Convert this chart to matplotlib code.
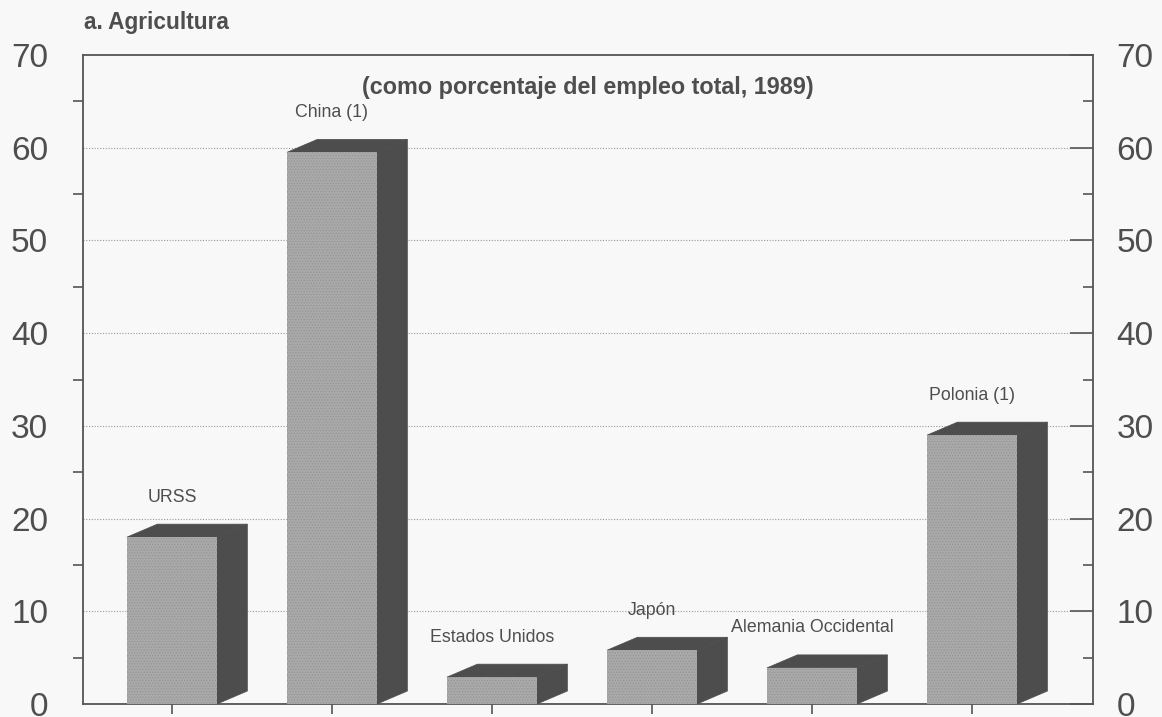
import numpy as np
import matplotlib
matplotlib.use("Agg")
import matplotlib.pyplot as plt
from matplotlib.patches import Polygon

# empleo agricola, % del empleo total, 1989
paises = ["URSS", "China (1)", "Estados Unidos", "Japón",
          "Alemania Occidental", "Polonia (1)"]
valores = [18.0, 59.5, 2.9, 5.8, 3.9, 29.0]

plt.rcParams["font.family"] = ["Liberation Sans", "DejaVu Sans"]
plt.rcParams["font.stretch"] = "normal"
txt = "#4e4e4e"
fondo = "#f8f8f8"
frente = "#a9a9a9"
oscuro = "#4d4d4d"

fig = plt.figure(figsize=(11.62, 7.17), dpi=100, facecolor=fondo)
ax = fig.add_axes([0.0714, 0.0181, 0.8692, 0.9052])
ax.set_facecolor(fondo)

x = np.arange(len(paises))
ancho = 0.5625
dx, dy = 0.19, 1.4   # profundidad del efecto 3D

ax.set_xlim(-0.556, 5.756)
ax.set_ylim(0, 70)

# rejilla punteada cada 10
for g in range(10, 70, 10):
    ax.axhline(g, color="#9a9a9a", lw=0.8, ls=(0, (1, 1.5)), zorder=1)

plt.rcParams["hatch.linewidth"] = 0.5
plt.rcParams["hatch.color"] = "#939393"
ax.bar(x, valores, width=ancho, color=frente, hatch="......",
       edgecolor="#939393", linewidth=0, zorder=3)

for xi, v in zip(x, valores):
    x0, x1 = xi - ancho / 2, xi + ancho / 2
    lado = Polygon([(x1, 0), (x1 + dx, dy), (x1 + dx, v + dy), (x1, v)],
                   closed=True, facecolor=oscuro, edgecolor=oscuro,
                   lw=0.5, zorder=2.9)
    tapa = Polygon([(x0, v), (x0 + dx, v + dy), (x1 + dx, v + dy), (x1, v)],
                   closed=True, facecolor=oscuro, edgecolor=oscuro,
                   lw=0.5, zorder=2.9)
    ax.add_patch(lado)
    ax.add_patch(tapa)

for xi, v, nombre in zip(x, valores, paises):
    ax.text(xi, v + 4.3, nombre, ha="center", va="center",
            fontsize=12.8, color=txt, zorder=5)

for s in ax.spines.values():
    s.set_color("#555555")
    s.set_linewidth(1.3)

ax.set_xticks(x)
ax.set_xticklabels([])
ax.tick_params(axis="x", direction="out", length=7, width=1.2, color="#555555")

ax.set_yticks(range(0, 71, 10))
ax.set_yticks(range(5, 70, 10), minor=True)
ax.tick_params(axis="y", which="major", length=0, pad=25,
               labelsize=24, labelcolor=txt)
ax.tick_params(axis="y", which="minor", direction="out", length=7,
               width=1.2, color="#555555")

ax2 = ax.twinx()
ax2.set_ylim(0, 70)
ax2.set_yticks(range(0, 71, 10))
ax2.set_yticks(range(5, 70, 10), minor=True)
ax2.tick_params(axis="y", which="major", direction="in", length=16.5,
                width=1.2, color="#555555", pad=17,
                labelsize=24, labelcolor=txt)
ax2.tick_params(axis="y", which="minor", direction="in", length=7,
                width=1.2, color="#555555")
for s in ax2.spines.values():
    s.set_visible(False)

fig.text(84 / 1162, 1 - 23 / 717, "a. Agricultura", ha="left", va="center",
         fontsize=16.3, fontweight="bold", fontstretch="normal", color=txt)
ax.text(0.5, 0.95, "(como porcentaje del empleo total, 1989)",
        transform=ax.transAxes, ha="center", va="center",
        fontsize=16.8, fontweight="bold", fontstretch="normal", color=txt,
        zorder=5)

fig.savefig("out.png", dpi=100, facecolor=fondo)
